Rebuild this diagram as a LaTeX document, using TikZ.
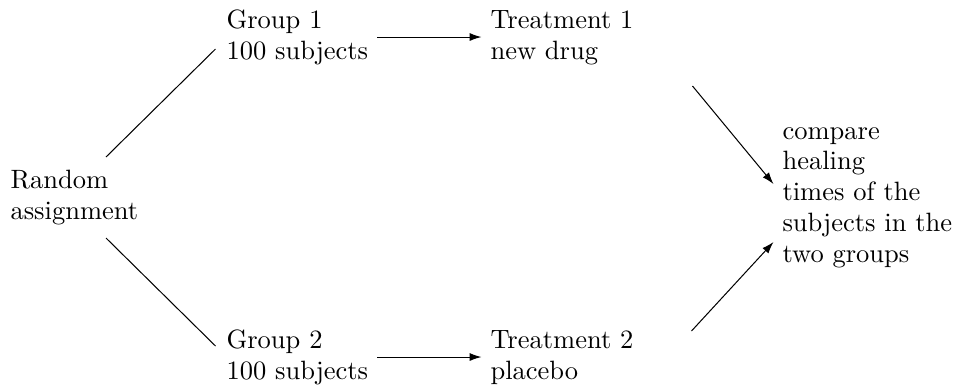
\documentclass[tikz,border=0pt]{standalone}
\usetikzlibrary{arrows.meta}
\begin{document}
\begin{tikzpicture}[x=0.3906pt,y=-0.3906pt,
  lbl/.style={align=left,anchor=base west,inner sep=0.3333em,font=\fontsize{10.35pt}{12pt}\selectfont},
  link/.style={line width=0.4pt},
  arr/.style={line width=0.4pt,-{Latex[length=4.6pt,width=3.1pt]}}]
\useasboundingbox (0,0) rectangle (953,386);
\node[lbl] (rand) at (1.5,219) {Random\\assignment};
\node[lbl] (g1) at (217.5,59) {Group 1\\100 subjects};
\node[lbl] (t1) at (481.5,59) {Treatment 1\\new drug};
\node[lbl] (g2) at (217.5,379) {Group 2\\100 subjects};
\node[lbl] (t2) at (481.5,379) {Treatment 2\\placebo};
\node[lbl] (cmp) at (773.5,262) {compare\\healing\\times of the\\subjects in the\\two groups};
\draw[link] ([shift={(104.5,-62)}]rand.base west) -- ([shift={(-2,-10)}]g1.base west);
\draw[link] ([shift={(104.5,19)}]rand.base west) -- ([shift={(-2,-33)}]g2.base west);
\draw[arr] (g1.east) -- (g1.east -| t1.west);
\draw[arr] (g2.east) -- (g2.east -| t2.west);
\draw[arr] ([shift={(211,27)}]t1.base west) -- ([shift={(0,-78)}]cmp.base west);
\draw[arr] ([shift={(210,-48)}]t2.base west) -- ([shift={(0,-20)}]cmp.base west);
\end{tikzpicture}
\end{document}
